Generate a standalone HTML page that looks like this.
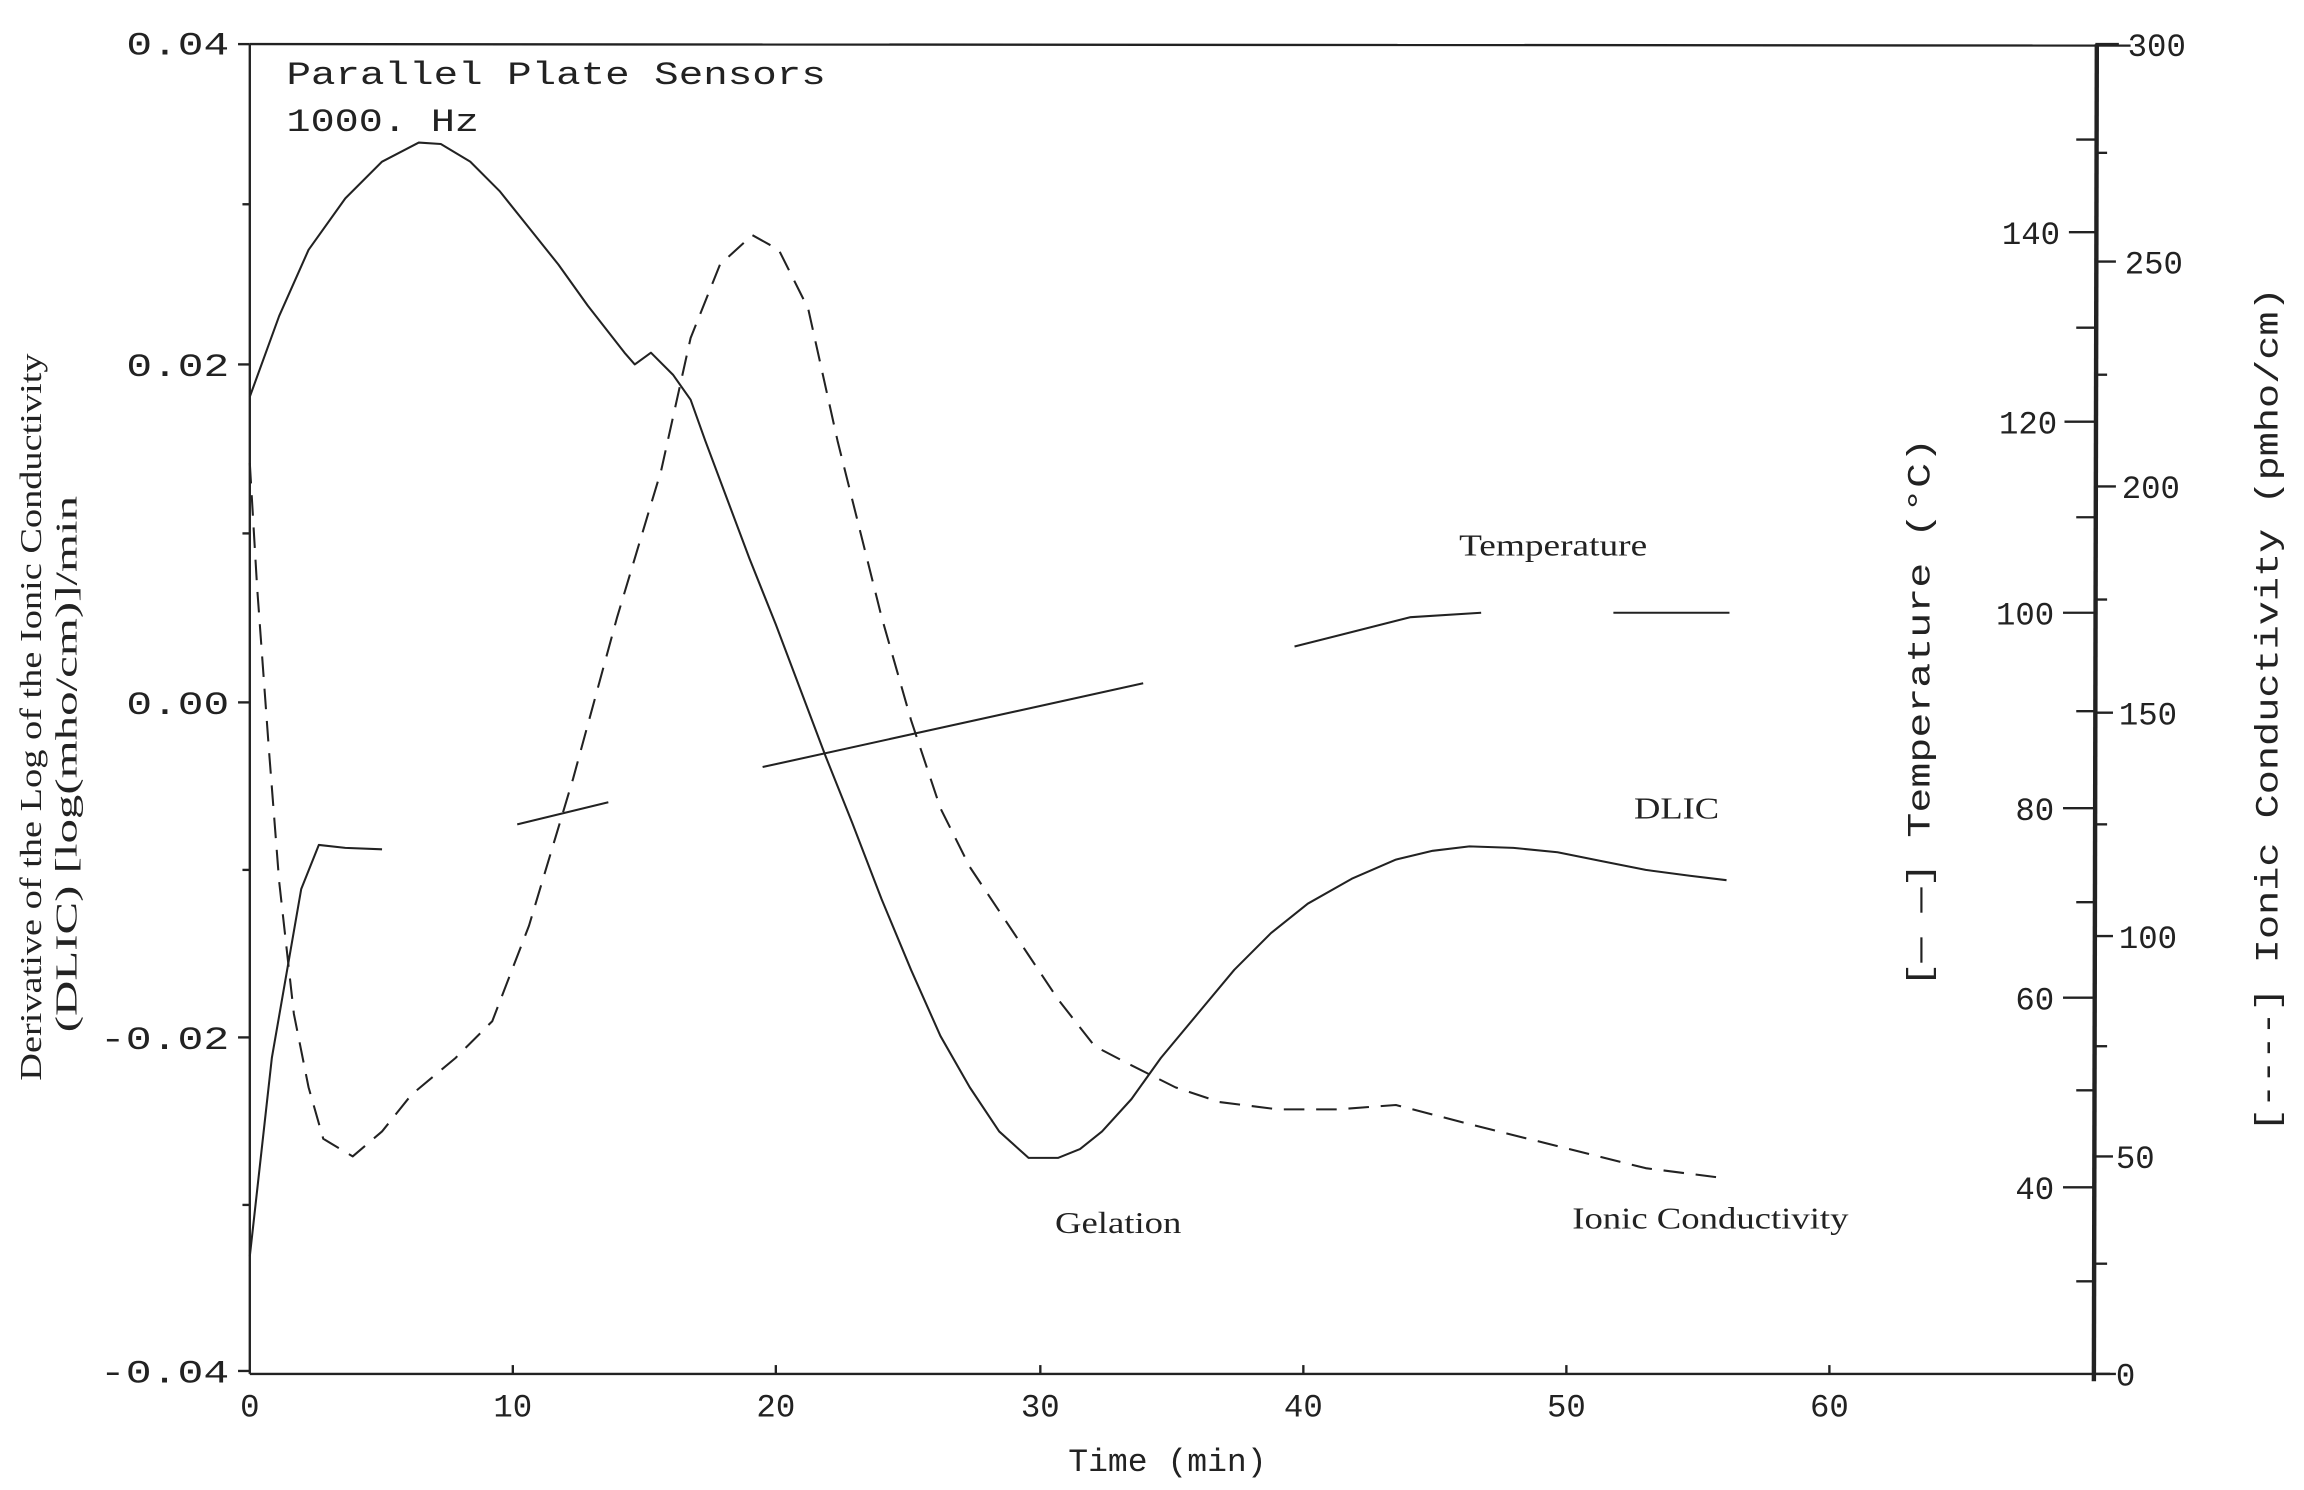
<!DOCTYPE html>
<html><head><meta charset="utf-8"><style>
html,body{margin:0;padding:0;background:#fff;}
svg{display:block;}
.m{font-family:"Liberation Mono",monospace;fill:#222;}
.s{font-family:"Liberation Serif",serif;fill:#222;}
</style></head><body>
<svg width="2304" height="1490" viewBox="0 0 1568 1014" xmlns="http://www.w3.org/2000/svg">
<rect width="1568" height="1014" fill="#fff"/>
<g stroke="#222" fill="none" stroke-width="1.6">
<line x1="170" y1="30" x2="1450" y2="31"/>
<line x1="170" y1="935" x2="1440" y2="935"/>
<line x1="170" y1="30" x2="170" y2="935"/>
<line x1="1427" y1="30" x2="1425" y2="940" stroke-width="3"/>
<line x1="162" y1="30" x2="170" y2="30"/><line x1="162" y1="248" x2="170" y2="248"/>
<line x1="162" y1="478" x2="170" y2="478"/><line x1="162" y1="706" x2="170" y2="706"/>
<line x1="162" y1="933" x2="170" y2="933"/>
<line x1="165" y1="139" x2="170" y2="139"/><line x1="165" y1="363" x2="170" y2="363"/>
<line x1="165" y1="592" x2="170" y2="592"/><line x1="165" y1="820" x2="170" y2="820"/>
<line x1="349" y1="935" x2="349" y2="929"/><line x1="528" y1="935" x2="528" y2="929"/>
<line x1="708" y1="935" x2="708" y2="929"/><line x1="887" y1="935" x2="887" y2="929"/>
<line x1="1066" y1="935" x2="1066" y2="929"/><line x1="1245" y1="935" x2="1245" y2="929"/>
<line x1="1408" y1="158" x2="1426" y2="158"/><line x1="1405" y1="287" x2="1426" y2="287"/>
<line x1="1404" y1="417" x2="1426" y2="417"/><line x1="1404" y1="550" x2="1426" y2="550"/>
<line x1="1404" y1="679" x2="1426" y2="679"/><line x1="1404" y1="808" x2="1426" y2="808"/>
<line x1="1413" y1="95" x2="1426" y2="95"/><line x1="1413" y1="223" x2="1426" y2="223"/>
<line x1="1413" y1="352" x2="1426" y2="352"/><line x1="1413" y1="484" x2="1426" y2="484"/>
<line x1="1413" y1="614" x2="1426" y2="614"/><line x1="1413" y1="742" x2="1426" y2="742"/>
<line x1="1413" y1="872" x2="1426" y2="872"/>
<line x1="1426" y1="30" x2="1442" y2="30"/><line x1="1426" y1="178" x2="1440" y2="178"/>
<line x1="1426" y1="331" x2="1440" y2="331"/><line x1="1426" y1="485" x2="1438" y2="485"/>
<line x1="1426" y1="637" x2="1438" y2="637"/><line x1="1426" y1="787" x2="1438" y2="787"/>
<line x1="1426" y1="935" x2="1436" y2="935"/>
<line x1="1426" y1="104" x2="1434" y2="104"/><line x1="1426" y1="255" x2="1434" y2="255"/>
<line x1="1426" y1="408" x2="1434" y2="408"/><line x1="1426" y1="561" x2="1434" y2="561"/>
<line x1="1426" y1="712" x2="1434" y2="712"/><line x1="1426" y1="860" x2="1434" y2="860"/>
</g>
<g stroke="#222" fill="none" stroke-width="1.4" stroke-linejoin="round">
<path d="M170,270 L190,215 L210,170 L235,135 L260,110 L285,97 L300,98 L320,110 L340,130 L360,155 L380,180 L400,208 L425,240 L432,248 L443,240 L458,255 L470,272 L480,300 L495,340 L510,380 L528,425 L545,470 L562,515 L580,560 L600,612 L620,660 L640,705 L660,740 L680,770 L700,788 L720,788 L735,782 L750,770 L770,748 L790,720 L815,690 L840,660 L865,635 L890,615 L920,598 L950,585 L975,579 L1000,576 L1030,577 L1060,580 L1090,586 L1120,592 L1150,596 L1175,599"/>
<path d="M170,855 L185,720 L205,605 L217,575 L235,577 L260,578"/>
<path d="M352,561 L414,546"/>
<path d="M519,522 L778,465"/>
<path d="M881,440 L960,420 L1008,417"/>
<path d="M1098,417 L1177,417"/>
<path stroke-dasharray="14,8" d="M170,315 L175,400 L183,510 L190,600 L200,690 L210,740 L220,775 L240,787 L260,770 L280,745 L310,720 L335,695 L360,630 L390,530 L420,420 L450,320 L470,230 L490,180 L512,160 L530,170 L550,210 L570,300 L600,420 L620,490 L640,550 L660,590 L680,620 L700,650 L720,680 L745,712 L770,725 L800,740 L830,750 L870,755 L910,755 L950,752 L1000,765 L1060,780 L1120,795 L1175,802"/>
</g>
<g class="m" font-size="22">
<text x="156" y="37" text-anchor="end" textLength="70" lengthAdjust="spacingAndGlyphs">0.04</text>
<text x="156" y="256" text-anchor="end" textLength="70" lengthAdjust="spacingAndGlyphs">0.02</text>
<text x="156" y="486" text-anchor="end" textLength="70" lengthAdjust="spacingAndGlyphs">0.00</text>
<text x="156" y="714" text-anchor="end" textLength="88" lengthAdjust="spacingAndGlyphs">-0.02</text>
<text x="156" y="941" text-anchor="end" textLength="88" lengthAdjust="spacingAndGlyphs">-0.04</text>
<text x="170" y="964" text-anchor="middle">0</text>
<text x="349" y="964" text-anchor="middle">10</text>
<text x="528" y="964" text-anchor="middle">20</text>
<text x="708" y="964" text-anchor="middle">30</text>
<text x="887" y="964" text-anchor="middle">40</text>
<text x="1066" y="964" text-anchor="middle">50</text>
<text x="1245" y="964" text-anchor="middle">60</text>
<text x="727" y="1001" textLength="135" lengthAdjust="spacingAndGlyphs">Time (min)</text>
<text x="195" y="57" textLength="367" lengthAdjust="spacingAndGlyphs">Parallel Plate Sensors</text>
<text x="195" y="89" textLength="131" lengthAdjust="spacingAndGlyphs">1000. Hz</text>
<text x="1402" y="166" text-anchor="end">140</text>
<text x="1400" y="295" text-anchor="end">120</text>
<text x="1398" y="425" text-anchor="end">100</text>
<text x="1398" y="558" text-anchor="end">80</text>
<text x="1398" y="687" text-anchor="end">60</text>
<text x="1398" y="816" text-anchor="end">40</text>
<text x="1448" y="38">300</text>
<text x="1446" y="186">250</text>
<text x="1444" y="339">200</text>
<text x="1442" y="493">150</text>
<text x="1442" y="645">100</text>
<text x="1440" y="795">50</text>
<text x="1440" y="943">0</text>
<text transform="translate(1313,485) rotate(-90)" text-anchor="middle" textLength="374" lengthAdjust="spacingAndGlyphs">[— —] Temperature (°C)</text>
<text transform="translate(1550,483) rotate(-90)" text-anchor="middle" textLength="575" lengthAdjust="spacingAndGlyphs">[----] Ionic Conductivity (pmho/cm)</text>
</g>
<g class="s" font-size="21">
<text x="993" y="378" textLength="128" lengthAdjust="spacingAndGlyphs">Temperature</text>
<text x="1112" y="557" textLength="58" lengthAdjust="spacingAndGlyphs">DLIC</text>
<text x="718" y="839" textLength="86" lengthAdjust="spacingAndGlyphs">Gelation</text>
<text x="1070" y="836" textLength="188" lengthAdjust="spacingAndGlyphs">Ionic Conductivity</text>
<text transform="translate(28,488) rotate(-90)" text-anchor="middle" textLength="495" lengthAdjust="spacingAndGlyphs">Derivative of the Log of the Ionic Conductivity</text>
<text transform="translate(52,520) rotate(-90)" text-anchor="middle" textLength="365" lengthAdjust="spacingAndGlyphs">(DLIC)  [log(mho/cm)]/min</text>
</g>
</svg>
</body></html>
